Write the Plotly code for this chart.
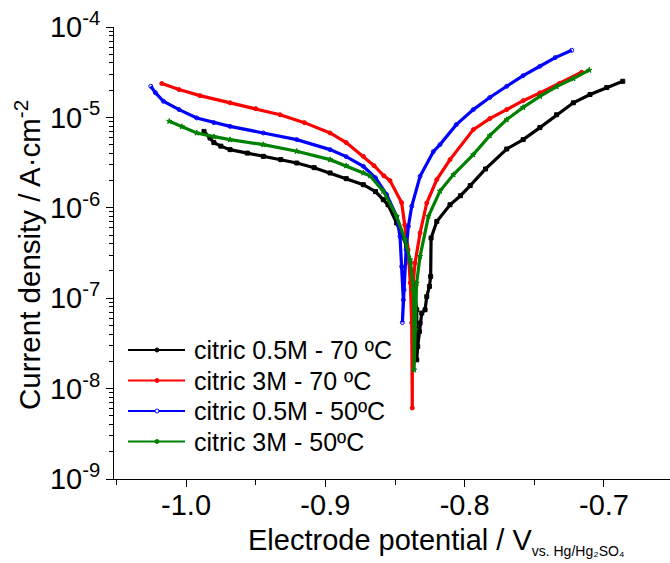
import plotly.graph_objects as go

# Potentiodynamic polarization curves
# potential in V vs. Hg/Hg2SO4, current density in A/cm2

E_05M_70 = [-0.9871, -0.9828, -0.9800, -0.9750, -0.9684, -0.9560, -0.9445, -0.9320, -0.9205,
            -0.9080, -0.8966, -0.8850, -0.8727, -0.8640, -0.8584, -0.8550, -0.8488, -0.8416,
            -0.8392, -0.8368, -0.8344, -0.8344, -0.8344, -0.8337, -0.8325, -0.8320, -0.8308,
            -0.8284, -0.8272, -0.8253, -0.8244, -0.8241, -0.8200, -0.8105, -0.8030, -0.7960,
            -0.7850, -0.7698, -0.7580, -0.7460, -0.7340, -0.7220, -0.7100, -0.6980, -0.6865]
I_05M_70 = [7.0e-6, 5.93e-6, 5.26e-6, 4.81e-6, 4.40e-6, 4.03e-6, 3.71e-6, 3.41e-6, 3.13e-6,
            2.78e-6, 2.43e-6, 2.10e-6, 1.80e-6, 1.51e-6, 1.23e-6, 1.08e-6, 6.79e-7, 3.74e-7,
            2.47e-7, 1.48e-7, 7.45e-8, 3.77e-8, 2.08e-8, 2.92e-8, 4.28e-8, 5.30e-8, 6.84e-8,
            7.45e-8, 1.04e-7, 1.35e-7, 1.74e-7, 4.63e-7, 7.06e-7, 1.08e-6, 1.36e-6, 1.76e-6,
            2.69e-6, 4.47e-6, 5.68e-6, 7.71e-6, 1.07e-5, 1.45e-5, 1.79e-5, 2.14e-5, 2.51e-5]

E_3M_70 = [-1.0174, -1.0050, -0.9900, -0.9684, -0.9500, -0.9325, -0.9150, -0.8966, -0.8850,
           -0.8727, -0.8650, -0.8580, -0.8536, -0.8452, -0.8430, -0.8406, -0.8390, -0.8380,
           -0.8376, -0.8374, -0.8356, -0.8320, -0.8272, -0.8200, -0.8105, -0.7938, -0.7820,
           -0.7698, -0.7580, -0.7460, -0.7320, -0.7160]
I_3M_70 = [2.37e-5, 2.03e-5, 1.74e-5, 1.45e-5, 1.25e-5, 1.07e-5, 8.75e-6, 6.73e-6, 5.26e-6,
           3.71e-6, 2.92e-6, 2.26e-6, 2.00e-6, 1.14e-6, 6.50e-7, 3.44e-7, 1.48e-7, 5.35e-8,
           6.1e-9, 1.24e-7, 2.45e-7, 5.26e-7, 1.13e-6, 2.05e-6, 3.41e-6, 7.33e-6, 9.70e-6,
           1.22e-5, 1.53e-5, 1.87e-5, 2.37e-5, 3.16e-5]

E_05M_50 = [-1.0253, -1.0220, -1.0163, -1.0050, -0.9923, -0.9800, -0.9684, -0.9445, -0.9205,
            -0.8966, -0.8850, -0.8727, -0.8640, -0.8560, -0.8488, -0.8464, -0.8452, -0.8440,
            -0.8447, -0.8435, -0.8420, -0.8404, -0.8380, -0.8320, -0.8225, -0.8177, -0.8060,
            -0.7938, -0.7820, -0.7698, -0.7580, -0.7460, -0.7350, -0.7231]
I_05M_50 = [2.21e-5, 1.88e-5, 1.51e-5, 1.22e-5, 9.86e-6, 8.75e-6, 7.96e-6, 6.73e-6, 5.68e-6,
            4.40e-6, 3.68e-6, 2.88e-6, 2.15e-6, 1.40e-6, 8.04e-7, 4.82e-7, 2.24e-7, 9.6e-8,
            5.38e-8, 1.24e-7, 3.44e-7, 6.22e-7, 1.04e-6, 2.23e-6, 4.18e-6, 5.00e-6, 8.32e-6,
            1.22e-5, 1.66e-5, 2.21e-5, 2.90e-5, 3.68e-5, 4.59e-5, 5.53e-5]

E_3M_50 = [-1.0120, -1.0030, -0.9923, -0.9800, -0.9684, -0.9445, -0.9205, -0.8966, -0.8850,
           -0.8727, -0.8680, -0.8584, -0.8488, -0.8428, -0.8392, -0.8368, -0.8363, -0.8363,
           -0.8355, -0.8345, -0.8320, -0.8260, -0.8177, -0.8080, -0.7938, -0.7820, -0.7698,
           -0.7580, -0.7460, -0.7340, -0.7220, -0.7106]
I_3M_50 = [9.06e-6, 7.91e-6, 6.73e-6, 6.12e-6, 5.68e-6, 5.00e-6, 4.22e-6, 3.41e-6, 2.92e-6,
           2.43e-6, 2.26e-6, 1.53e-6, 8.04e-7, 4.44e-7, 2.66e-7, 1.24e-7, 5.35e-8, 1.61e-8,
           4.47e-8, 1.47e-7, 2.90e-7, 8.04e-7, 1.53e-6, 2.33e-6, 3.87e-6, 6.28e-6, 9.46e-6,
           1.29e-5, 1.71e-5, 2.19e-5, 2.69e-5, 3.33e-5]

SERIES_NAMES = ["citric 0.5M - 70 ºC", "citric 3M - 70 ºC", "citric 0.5M - 50ºC", "citric 3M - 50ºC"]
SERIES_E = [E_05M_70, E_3M_70, E_05M_50, E_3M_50]
SERIES_I = [I_05M_70, I_3M_70, I_05M_50, I_3M_50]
COLORS = ["#000000", "#ff0000", "#0000ff", "#008000"]
SYMBOLS = ["square", "circle", "circle-open", "star"]

X_TICKVALS = [-1.0, -0.9, -0.8, -0.7]
X_TICKTEXT = ["-1.0", "-0.9", "-0.8", "-0.7"]
X_MINOR = [-1.05, -0.95, -0.85, -0.75, -0.65]
X_TOP_TICKS = [-1.05, -1.0, -0.95, -0.9, -0.85, -0.8, -0.75, -0.7, -0.65]
Y_TICKVALS = [1e-9, 1e-8, 1e-7, 1e-6, 1e-5, 1e-4]
Y_TICKTEXT = ["10<sup>-9</sup>", "10<sup>-8</sup>", "10<sup>-7</sup>",
              "10<sup>-6</sup>", "10<sup>-5</sup>", "10<sup>-4</sup>"]
Y_MINOR = [m * d for d in Y_TICKVALS[:-1] for m in range(2, 10)]

X_RANGE = [-1.0517, -0.6526]
Y_RANGE = [-9, -4]

FONT = "Arial, Liberation Sans, sans-serif"
W, H = 670, 563
ML, MR, MT, MB = 114, 0, 27, 84
PW, PH = W - ML - MR, H - MT - MB


def px_x(px):
    return (px - ML) / PW


def px_y(py):
    return (H - MB - py) / PH


fig = go.Figure()
for e, i, c, s in zip(SERIES_E, SERIES_I, COLORS, SYMBOLS):
    fig.add_trace(go.Scatter(
        x=e, y=i, mode="lines+markers",
        line=dict(color=c, width=3.2),
        marker=dict(color=c, size=4, symbol=s, line=dict(color=c, width=1)),
        showlegend=False,
    ))

axis_common = dict(showgrid=False, zeroline=False, linecolor="black", linewidth=1,
                   tickcolor="black", tickwidth=1)

fig.update_layout(
    width=W, height=H,
    margin=dict(l=ML, r=MR, t=MT, b=MB, autoexpand=False),
    paper_bgcolor="white", plot_bgcolor="white",
    font=dict(family=FONT, color="black"),
    xaxis=dict(range=X_RANGE, showline=True, mirror=False, ticks="outside", ticklen=7,
               tickvals=X_TICKVALS, ticktext=X_TICKTEXT, tickfont=dict(size=29),
               ticklabelstandoff=-7,
               minor=dict(tickvals=X_MINOR, ticks="outside", ticklen=5, tickcolor="black",
                          showgrid=False),
               **axis_common),
    xaxis2=dict(range=X_RANGE, overlaying="x", side="top", anchor="y", showline=True,
                ticks="inside", ticklen=6, tickvals=X_TOP_TICKS, showticklabels=False,
                **axis_common),
    yaxis=dict(type="log", range=Y_RANGE, showline=True, mirror=False, ticks="outside",
               ticklen=7, tickvals=Y_TICKVALS, ticktext=Y_TICKTEXT, tickfont=dict(size=29),
               minor=dict(tickvals=Y_MINOR, ticks="outside", ticklen=4, tickcolor="black",
                          showgrid=False),
               **axis_common),
    yaxis2=dict(type="log", range=Y_RANGE, overlaying="y", side="right", anchor="x",
                showline=False, ticks="inside", ticklen=5, tickvals=Y_TICKVALS,
                showticklabels=False, **axis_common),
)

# axis titles
fig.add_annotation(
    text="Electrode potential / V<sub><span style='font-size:14px'>vs. Hg/Hg₂SO₄</span></sub>",
    xref="paper", yref="paper", x=px_x(246), y=px_y(522),
    xanchor="left", yanchor="top", showarrow=False,
    font=dict(size=29, family=FONT, color="black"))
fig.add_annotation(text="Current density / A·cm<sup>-2</sup>",
                   xref="paper", yref="paper", x=px_x(27), y=px_y(412),
                   xanchor="center", yanchor="bottom", textangle=-90, showarrow=False,
                   font=dict(size=29.5, family=FONT, color="black"))

# legend box drawn inside the plot area
ROW0, ROW_STEP = 350, 30.5
for k, (name, c, s) in enumerate(zip(SERIES_NAMES, COLORS, SYMBOLS)):
    ry = px_y(ROW0 + k * ROW_STEP)
    fig.add_shape(type="line", xref="paper", yref="paper",
                  x0=px_x(128), x1=px_x(185), y0=ry, y1=ry,
                  line=dict(color=c, width=1.8))
    fig.add_shape(type="circle", xref="paper", yref="paper",
                  xsizemode="pixel", ysizemode="pixel",
                  xanchor=px_x(157), yanchor=ry, x0=-2, x1=2, y0=-2, y1=2,
                  line=dict(color=c, width=1), fillcolor=c if s != "circle-open" else "white")
    fig.add_annotation(text=name, xref="paper", yref="paper", x=px_x(192), y=ry,
                       xanchor="left", yanchor="middle", showarrow=False,
                       font=dict(size=25, family=FONT, color="black"))

fig.write_html("out.html")
